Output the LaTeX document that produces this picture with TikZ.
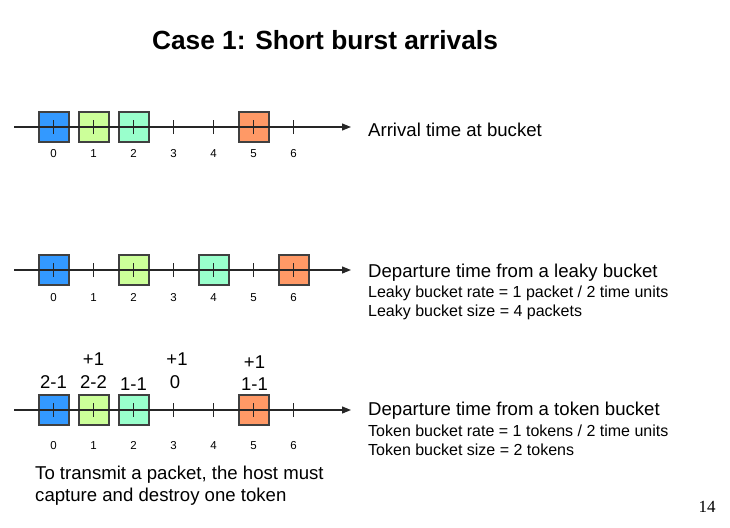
\documentclass[tikz,border=0pt]{standalone}
\usepackage{fontspec}
\setmainfont{Liberation Sans}
\newfontfamily\seriffont{Liberation Serif}
\usetikzlibrary{arrows.meta}
\definecolor{pblue}{HTML}{3399FF}
\definecolor{pyel}{HTML}{CCFF99}
\definecolor{pmint}{HTML}{99FFCC}
\definecolor{porange}{HTML}{FF9966}
\begin{document}
\begin{tikzpicture}[x=1pt,y=-1pt,
  pkt/.style={draw=black!75, line width=2pt, minimum size=30pt, inner sep=0pt},
  axis/.style={draw=black!85, line width=1.2pt, -{Triangle[length=9pt,width=7pt]}},
  tck/.style={draw=black!85, line width=1.3pt},
  num/.style={font=\fontsize{11.5}{13}\selectfont, inner sep=0pt, anchor=base},
  big/.style={font=\fontsize{18.6}{21}\selectfont, anchor=west, inner sep=0pt},
  small/.style={font=\fontsize{16}{18}\selectfont, anchor=west, inner sep=0pt},
  tok/.style={font=\fontsize{18.5}{21}\selectfont, inner sep=0pt, anchor=base}]
\useasboundingbox (0,0) rectangle (730,527);
% title
\node[font=\bfseries\fontsize{26.3}{30}\selectfont] (title) at (325,40) {Case 1: Short burst arrivals};
% ---------- row 1 ----------
\node[pkt, fill=pblue]   (a0) at (53.5,127) {};
\node[pkt, fill=pyel]    (a1) at (93.5,127) {};
\node[pkt, fill=pmint]   (a2) at (133.5,127) {};
\node[pkt, fill=porange] (a5) at (253.5,127) {};
\coordinate (s1) at (14,127);
\coordinate (e1) at (351,127);
\draw[axis] (s1) -- (e1);
\foreach \i in {0,...,6}{
  \coordinate (t1\i) at (53.5+40*\i,127);
  \draw[tck] ([yshift=-7pt]t1\i) -- ([yshift=7pt]t1\i);
  \node[num] (n1\i) at (53.5+40*\i,157.5) {\i};
}
\node[big] (lab1) at (368,130) {Arrival time at bucket};
% ---------- row 2 ----------
\node[pkt, fill=pblue]   (b0) at (53.5,270) {};
\node[pkt, fill=pyel]    (b2) at (133.5,270) {};
\node[pkt, fill=pmint]   (b4) at (213.5,270) {};
\node[pkt, fill=porange] (b6) at (293.5,270) {};
\coordinate (s2) at (14,270);
\coordinate (e2) at (351,270);
\draw[axis] (s2) -- (e2);
\foreach \i in {0,...,6}{
  \coordinate (t2\i) at (53.5+40*\i,270);
  \draw[tck] ([yshift=-7pt]t2\i) -- ([yshift=7pt]t2\i);
  \node[num] (n2\i) at (53.5+40*\i,301.5) {\i};
}
\node[big] (lab2) at (368,273) {Departure time from a leaky bucket};
\node[small] (lab2a) at (368,293) {Leaky bucket rate = 1 packet / 2 time units};
\node[small] (lab2b) at (368,312) {Leaky bucket size = 4 packets};
% ---------- row 3 ----------
\node[pkt, fill=pblue]   (c0) at (53.5,410) {};
\node[pkt, fill=pyel]    (c1) at (93.5,410) {};
\node[pkt, fill=pmint]   (c2) at (133.5,410) {};
\node[pkt, fill=porange] (c5) at (253.5,410) {};
\coordinate (s3) at (14,410);
\coordinate (e3) at (351,410);
\draw[axis] (s3) -- (e3);
\foreach \i in {0,...,6}{
  \coordinate (t3\i) at (53.5+40*\i,410);
  \draw[tck] ([yshift=-7pt]t3\i) -- ([yshift=7pt]t3\i);
  \node[num] (n3\i) at (53.5+40*\i,449.5) {\i};
}
\node[tok] (k0)  at (53.5,388) {2-1};
\node[tok] (k1p) at (93.5,365) {+1};
\node[tok] (k1)  at (93.5,388) {2-2};
\node[tok] (k2)  at (133.5,390) {1-1};
\node[tok] (k3p) at (177,365) {+1};
\node[tok] (k3)  at (175,388) {0};
\node[tok] (k5p) at (254.5,368) {+1};
\node[tok] (k5)  at (254.5,390) {1-1};
\node[big] (lab3) at (368,411) {Departure time from a token bucket};
\node[small] (lab3a) at (368,431) {Token bucket rate = 1 tokens / 2 time units};
\node[small] (lab3b) at (368,450) {Token bucket size = 2 tokens};
\node[big, anchor=north west, align=left, font=\fontsize{18.6}{22}\selectfont] (note) at (35,466)
  {To transmit a packet, the host must\\capture and destroy one token};
\node[font=\seriffont\fontsize{17}{20}\selectfont] (page) at (707,507) {14};
\end{tikzpicture}
\end{document}
